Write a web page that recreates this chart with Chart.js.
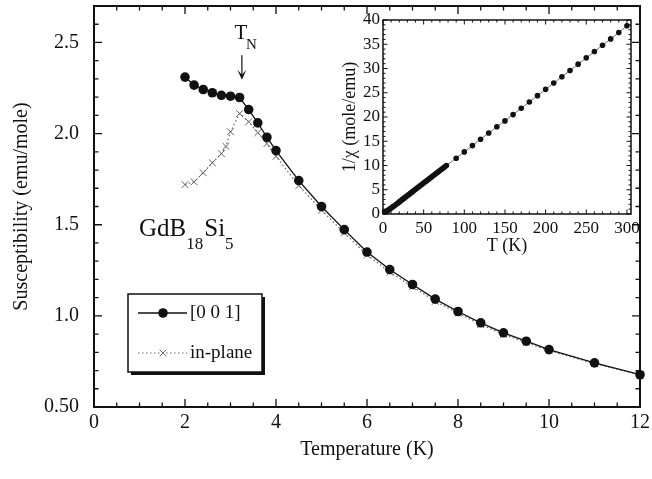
<!doctype html>
<html lang="en">
<head>
    <meta charset="UTF-8">
    <title>GdB18Si5 susceptibility</title>
    <script src="https://cdn.jsdelivr.net/npm/chart.js"></script>
    <style>
        body { margin: 0; background: #fff; }
        #wrap { position: relative; width: 652px; height: 479px; }
        #main { position: absolute; left: 0; top: 0; }
        #inset { position: absolute; left: 330px; top: 10px; }
    </style>
</head>
<body>
<div id="wrap">
    <canvas id="main" width="652" height="479"></canvas>
    <canvas id="inset" width="315" height="250"></canvas>
</div>
<script>
  // main panel: susceptibility vs temperature
  const temp001 = [2.0, 2.2, 2.4, 2.6, 2.8, 3.0, 3.2, 3.4, 3.6, 3.8, 4.0, 4.5, 5.0, 5.5, 6.0, 6.5, 7.0, 7.5, 8.0, 8.5, 9.0, 9.5, 10, 11, 12];
  const chi001 = [2.31, 2.266, 2.242, 2.224, 2.21, 2.205, 2.198, 2.132, 2.059, 1.98, 1.907, 1.742, 1.60, 1.473, 1.35, 1.254, 1.172, 1.092, 1.024, 0.962, 0.907, 0.861, 0.815, 0.742, 0.677];

  const tempPlane = [2.0, 2.2, 2.4, 2.6, 2.8, 2.9, 3.0, 3.2, 3.4, 3.6, 3.8, 4.0, 4.5, 5.0, 5.5, 6.0, 6.5, 7.0, 7.5, 8.0, 8.5, 9.0, 9.5, 10, 11, 12];
  const chiPlane = [1.72, 1.735, 1.785, 1.84, 1.89, 1.93, 2.01, 2.11, 2.065, 2.005, 1.945, 1.875, 1.715, 1.58, 1.455, 1.335, 1.24, 1.16, 1.08, 1.015, 0.952, 0.898, 0.853, 0.81, 0.738, 0.677];

  const xTicks = [0, 2, 4, 6, 8, 10, 12];
  const yTicks = [0.5, 1.0, 1.5, 2.0, 2.5];
  const yTickLabels = ['0.50', '1.0', '1.5', '2.0', '2.5'];

  // inset: inverse susceptibility vs T
  const insetT = [2, 4, 6, 8, 10, 12, 14, 16, 18, 20, 22, 24, 26, 28, 30, 32, 34, 36, 38, 40, 42, 44, 46, 48, 50, 52, 54, 56, 58, 60, 62, 64, 66, 68, 70, 72, 74, 76, 78,
    90, 100, 110, 120, 130, 140, 150, 160, 170, 180, 190, 200, 210, 220, 230, 240, 250, 260, 270, 280, 290, 300];
  const insetInvChi = [0.43, 0.52, 0.74, 0.98, 1.23, 1.47, 1.71, 1.97, 2.23, 2.49, 2.75, 3.01, 3.27, 3.53, 3.79, 4.04, 4.30, 4.56, 4.82, 5.08, 5.34, 5.60, 5.86, 6.12, 6.38, 6.63, 6.89, 7.15, 7.41, 7.67, 7.93, 8.19, 8.45, 8.71, 8.97, 9.22, 9.48, 9.74, 10.0,
    11.5, 12.8, 14.1, 15.4, 16.7, 18.0, 19.2, 20.5, 21.8, 23.1, 24.4, 25.7, 27.0, 28.3, 29.6, 30.9, 32.2, 33.5, 34.8, 36.1, 37.4, 38.8];
  const insetXTicks = [0, 50, 100, 150, 200, 250, 300];
  const insetYTicks = [0, 5, 10, 15, 20, 25, 30, 35, 40];

  const serif = 'Liberation Serif';

  function pairs(xs, ys) {
    return xs.map((x, i) => ({x: x, y: ys[i]}));
  }

  // closed frame with inward ticks on all four sides
  const frameTicks = {
    id: 'frameTicks',
    afterDatasetsDraw(chart, args, opts) {
      const {ctx, chartArea: a, scales: {x, y}} = chart;
      ctx.save();
      ctx.strokeStyle = '#111';
      ctx.lineWidth = opts.tickWidth;
      ctx.beginPath();
      const minor = (min, max, step) => {
        const out = [];
        for (let v = min; v <= max + 1e-9; v += step) out.push(v);
        return out;
      };
      minor(x.min, x.max, opts.minorX).forEach(v => {
        const px = x.getPixelForValue(v);
        const len = x.ticks.some(t => Math.abs(t.value - v) < 1e-6) ? opts.major : opts.minor;
        ctx.moveTo(px, a.bottom); ctx.lineTo(px, a.bottom - len);
        ctx.moveTo(px, a.top); ctx.lineTo(px, a.top + len);
      });
      minor(y.min, y.max, opts.minorY).forEach(v => {
        const py = y.getPixelForValue(v);
        const len = y.ticks.some(t => Math.abs(t.value - v) < 1e-6) ? opts.major : opts.minor;
        ctx.moveTo(a.left, py); ctx.lineTo(a.left + len, py);
        ctx.moveTo(a.right, py); ctx.lineTo(a.right - len, py);
      });
      ctx.stroke();
      ctx.lineWidth = opts.frameWidth;
      ctx.strokeRect(a.left, a.top, a.right - a.left, a.bottom - a.top);
      ctx.restore();
    }
  };

  // T_N marker, compound name and boxed legend
  const notes = {
    id: 'notes',
    afterDraw(chart, args, opts) {
      if (!opts.show) return;
      const {ctx, scales: {x, y}} = chart;
      ctx.save();
      ctx.fillStyle = '#111';
      ctx.textBaseline = 'alphabetic';

      // T_N
      const tx = x.getPixelForValue(3.25);
      ctx.font = '21px ' + serif;
      ctx.textAlign = 'center';
      ctx.fillText('T', tx - 1, y.getPixelForValue(2.518));
      ctx.font = '15px ' + serif;
      ctx.textAlign = 'left';
      ctx.fillText('N', tx + 4, y.getPixelForValue(2.463));
      const y0 = y.getPixelForValue(2.43), y1 = y.getPixelForValue(2.295);
      ctx.strokeStyle = '#111';
      ctx.lineWidth = 1.2;
      ctx.beginPath();
      ctx.moveTo(tx, y0); ctx.lineTo(tx, y1 - 4);
      ctx.stroke();
      ctx.beginPath();
      ctx.moveTo(tx - 4.5, y1 - 10); ctx.lineTo(tx, y1 - 5); ctx.lineTo(tx + 4.5, y1 - 10);
      ctx.lineTo(tx, y1); ctx.closePath();
      ctx.fill();

      // GdB18Si5
      let px = x.getPixelForValue(0.99);
      const base = y.getPixelForValue(1.44);
      const parts = [['GdB', 25, 0], ['18', 17, 13], ['Si', 25, 0], ['5', 17, 13]];
      parts.forEach(([s, size, drop]) => {
        ctx.font = size + 'px ' + serif;
        ctx.fillText(s, px, base + drop);
        px += ctx.measureText(s).width + (drop ? 1 : 0);
      });

      // legend box
      const L = opts.legend;
      ctx.fillStyle = '#111';
      ctx.fillRect(L.left + 3, L.top + 3, L.width, L.height);
      ctx.fillStyle = '#fff';
      ctx.fillRect(L.left, L.top, L.width, L.height);
      ctx.lineWidth = 1.5;
      ctx.strokeStyle = '#111';
      ctx.strokeRect(L.left, L.top, L.width, L.height);
      ctx.font = '19px ' + serif;
      chart.data.datasets.forEach((ds, i) => {
        const ly = L.top + L.rowY[i];
        ctx.save();
        ctx.strokeStyle = ds.borderColor;
        ctx.lineWidth = ds.borderWidth;
        ctx.setLineDash(ds.borderDash || []);
        ctx.beginPath();
        ctx.moveTo(L.left + 10, ly); ctx.lineTo(L.left + 59, ly);
        ctx.stroke();
        ctx.restore();
        const cx = L.left + 35;
        if (ds.pointStyle === 'crossRot') {
          ctx.strokeStyle = ds.pointBorderColor;
          ctx.lineWidth = 1;
          ctx.beginPath();
          const r = ds.pointRadius;
          ctx.moveTo(cx - r * 0.7, ly - r * 0.7); ctx.lineTo(cx + r * 0.7, ly + r * 0.7);
          ctx.moveTo(cx - r * 0.7, ly + r * 0.7); ctx.lineTo(cx + r * 0.7, ly - r * 0.7);
          ctx.stroke();
        } else {
          ctx.fillStyle = ds.pointBackgroundColor;
          ctx.beginPath();
          ctx.arc(cx, ly, ds.pointRadius, 0, Math.PI * 2);
          ctx.fill();
        }
        ctx.fillStyle = '#111';
        ctx.textBaseline = 'middle';
        ctx.fillText(ds.label, L.left + 62, ly);
      });
      ctx.restore();
    }
  };

  new Chart(document.getElementById('main'), {
    type: 'scatter',
    data: {
      datasets: [
        {
          label: '[0 0 1]',
          data: pairs(temp001, chi001),
          showLine: true,
          clip: 8,
          borderColor: '#111',
          borderWidth: 1.3,
          pointRadius: 4.8,
          pointBackgroundColor: '#111',
          pointBorderColor: '#111',
          pointBorderWidth: 0
        },
        {
          label: 'in-plane',
          data: pairs(tempPlane, chiPlane),
          showLine: true,
          clip: 8,
          borderColor: '#666',
          borderWidth: 1.2,
          borderDash: [1.5, 2.5],
          pointStyle: 'crossRot',
          pointRadius: 4.8,
          pointBorderColor: '#666',
          pointBorderWidth: 1
        }
      ]
    },
    options: {
      responsive: false,
      animation: false,
      layout: {padding: {left: 0, right: 12, top: 6, bottom: 0}},
      plugins: {
        legend: {display: false},
        tooltip: {enabled: false},
        frameTicks: {major: 8, minor: 4.5, minorX: 0.5, minorY: 0.1, tickWidth: 1.3, frameWidth: 2},
        notes: {
          show: true,
          legend: {left: 128, top: 294, width: 134, height: 78, rowY: [19, 59]}
        }
      },
      scales: {
        x: {
          type: 'linear',
          min: 0,
          max: 12,
          afterBuildTicks: s => { s.ticks = xTicks.map(v => ({value: v})); },
          afterFit: s => { s.height = 72; s.paddingLeft = 0; s.paddingRight = 0; },
          grid: {display: false, drawTicks: false},
          border: {display: false},
          ticks: {color: '#111', font: {family: serif, size: 20}, padding: 4, maxRotation: 0},
          title: {display: true, text: 'Temperature (K)', color: '#111', font: {family: serif, size: 20}, padding: 17}
        },
        y: {
          type: 'linear',
          min: 0.5,
          max: 2.7,
          afterBuildTicks: s => { s.ticks = yTicks.map(v => ({value: v})); },
          afterFit: s => { s.width = 94; s.paddingTop = 0; s.paddingBottom = 0; },
          grid: {display: false, drawTicks: false},
          border: {display: false},
          ticks: {
            color: '#111', font: {family: serif, size: 20}, padding: 15,
            callback: (v) => yTickLabels[yTicks.indexOf(v)]
          },
          title: {display: true, text: 'Susceptibility (emu/mole)', color: '#111', font: {family: serif, size: 20}, padding: 10}
        }
      }
    },
    plugins: [frameTicks, notes]
  });

  new Chart(document.getElementById('inset'), {
    type: 'scatter',
    data: {
      datasets: [
        {
          label: '1/chi',
          data: pairs(insetT, insetInvChi),
          showLine: true,
          clip: 6,
          borderColor: '#555',
          borderWidth: 0.8,
          pointRadius: 2.8,
          pointBackgroundColor: '#111',
          pointBorderWidth: 0
        }
      ]
    },
    options: {
      responsive: false,
      animation: false,
      layout: {padding: {left: 0, right: 14, top: 10, bottom: 0}},
      plugins: {
        legend: {display: false},
        tooltip: {enabled: false},
        frameTicks: {major: 4.5, minor: 2.5, minorX: 10, minorY: 1, tickWidth: 1, frameWidth: 1.5},
        notes: {show: false}
      },
      scales: {
        x: {
          type: 'linear',
          min: 0,
          max: 305,
          afterBuildTicks: s => { s.ticks = insetXTicks.map(v => ({value: v})); },
          afterFit: s => { s.height = 46; s.paddingLeft = 0; s.paddingRight = 0; },
          grid: {display: false, drawTicks: false},
          border: {display: false},
          ticks: {color: '#111', font: {family: serif, size: 17}, padding: 4, maxRotation: 0},
          title: {display: true, text: 'T (K)', color: '#111', font: {family: serif, size: 18}, padding: 3}
        },
        y: {
          type: 'linear',
          min: 0,
          max: 40,
          afterBuildTicks: s => { s.ticks = insetYTicks.map(v => ({value: v})); },
          afterFit: s => { s.width = 53; s.paddingTop = 0; s.paddingBottom = 0; },
          grid: {display: false, drawTicks: false},
          border: {display: false},
          ticks: {color: '#111', font: {family: serif, size: 17}, padding: 3},
          title: {display: true, text: '1/χ (mole/emu)', color: '#111', font: {family: serif, size: 18}, padding: 9}
        }
      }
    },
    plugins: [frameTicks, notes]
  });
</script>
</body>
</html>
